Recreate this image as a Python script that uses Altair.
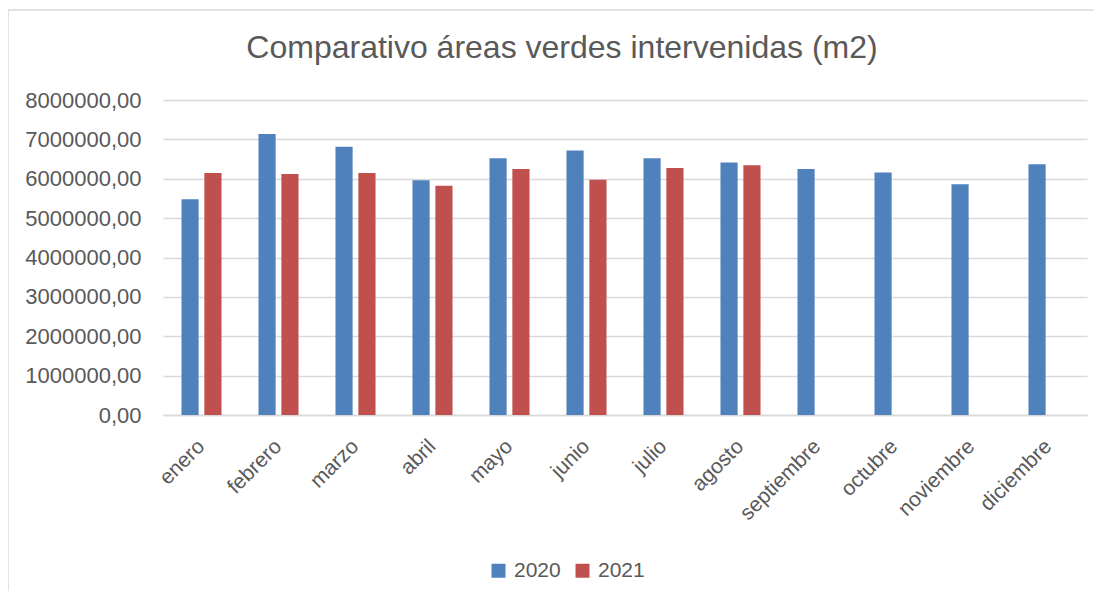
import altair as alt
import pandas as pd

meses = ["enero", "febrero", "marzo", "abril", "mayo", "junio", "julio",
         "agosto", "septiembre", "octubre", "noviembre", "diciembre"]
valores_2020 = [5480000, 7135000, 6810000, 5965000, 6520000, 6720000,
                6520000, 6410000, 6250000, 6160000, 5860000, 6370000]
valores_2021 = [6145000, 6120000, 6145000, 5820000, 6250000, 5975000,
                6270000, 6340000]
series = ["2020", "2021"]
colores = ["#4F81BD", "#C0504D"]
ticks_y = [0, 1000000, 2000000, 3000000, 4000000, 5000000, 6000000, 7000000, 8000000]
titulo = "Comparativo áreas verdes intervenidas (m2)"

rows = []
for m, v in zip(meses, valores_2020):
    rows.append({"mes": m, "anio": "2020", "valor": v})
for m, v in zip(meses, valores_2021):
    rows.append({"mes": m, "anio": "2021", "valor": v})
df = pd.DataFrame(rows)

FONT = "Liberation Sans"
GRAY = "#595959"

bars = alt.Chart(df).mark_bar().encode(
    x=alt.X("mes:N", sort=meses,
            scale=alt.Scale(paddingInner=0.48, paddingOuter=0.24),
            axis=alt.Axis(title=None, labelAngle=315, labelAlign="right",
                          labelBaseline="middle", labelFontSize=21,
                          labelColor=GRAY, labelFont=FONT, labelPadding=28,
                          ticks=False, domainColor="#D9D9D9", domainWidth=1.5,
                          grid=False)),
    xOffset=alt.XOffset("anio:N", sort=series, scale=alt.Scale(paddingInner=0.25)),
    y=alt.Y("valor:Q", scale=alt.Scale(domain=[0, 8000000]),
            axis=alt.Axis(title=None, values=ticks_y,
                          labelExpr="replace(format(datum.value, '.2f'), '.', ',')",
                          labelFontSize=22, labelColor=GRAY, labelFont=FONT,
                          labelPadding=22, ticks=False, domain=False,
                          gridColor="#D9D9D9", gridWidth=1.5)),
    color=alt.Color("anio:N", sort=series,
                    scale=alt.Scale(domain=series, range=colores),
                    legend=alt.Legend(title=None, orient="none", legendX=325,
                                      legendY=460, direction="horizontal",
                                      symbolType="square", symbolSize=196,
                                      symbolStrokeWidth=0,
                                      labelFontSize=21, labelColor=GRAY,
                                      labelFont=FONT, columnPadding=11,
                                      labelOffset=5)),
)

frame_df = pd.DataFrame({"a": [0]})
frame_left = alt.Chart(frame_df).mark_rule(color="#D9D9D9", strokeWidth=1.5).encode(
    x=alt.value(-155), y=alt.value(-90), y2=alt.value(500))
frame_top = alt.Chart(frame_df).mark_rule(color="#D9D9D9", strokeWidth=1.5).encode(
    x=alt.value(-155), x2=alt.value(935), y=alt.value(-90))
title_mark = alt.Chart(frame_df).mark_text(
    font=FONT, fontSize=32, color=GRAY, align="center", baseline="alphabetic"
).encode(x=alt.value(399), y=alt.value(-42), text=alt.value(titulo))

chart = alt.layer(frame_left, frame_top, title_mark, bars).properties(
    width=924, height=315,
    autosize=alt.AutoSizeParams(type="none"),
    padding={"left": 155, "top": 92, "right": 7, "bottom": 176},
).configure_view(stroke=None)

chart.save("out.html", embed_options={"renderer": "svg", "actions": False})
